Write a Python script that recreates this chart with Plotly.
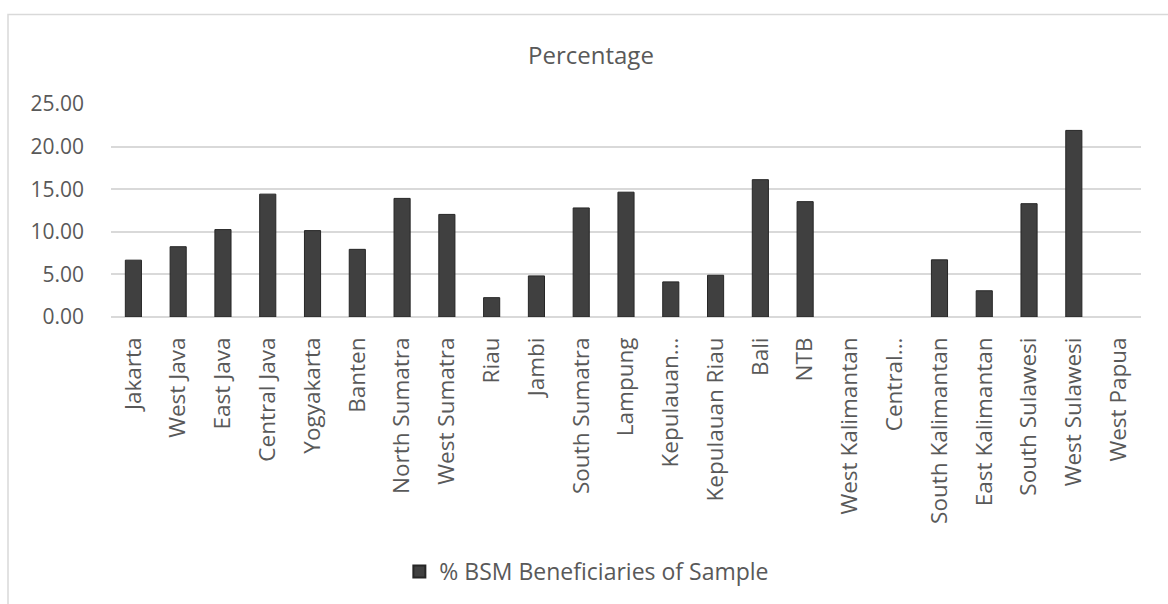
import plotly.graph_objects as go

provinces = [
    "Jakarta", "West Java", "East Java", "Central Java", "Yogyakarta", "Banten",
    "North Sumatra", "West Sumatra", "Riau", "Jambi", "South Sumatra", "Lampung",
    "Kepulauan...", "Kepulauan Riau", "Bali", "NTB", "West Kalimantan", "Central...",
    "South Kalimantan", "East Kalimantan", "South Sulawesi", "West Sulawesi", "West Papua",
]
pct_beneficiaries = [
    6.67, 8.25, 10.26, 14.42, 10.14, 7.94,
    13.92, 12.04, 2.27, 4.82, 12.80, 14.65,
    4.12, 4.90, 16.12, 13.54, 0.0, 0.0,
    6.71, 3.08, 13.30, 21.90, 0.0,
]
y_ticks = [0, 5, 10, 15, 20, 25]

FONT = "'Open Sans', sans-serif"
GREY_TEXT = "#595959"

# no outline on empty bars so nothing sits on the zero line
outline_widths = [1 if v > 0 else 0 for v in pct_beneficiaries]

fig = go.Figure(
    go.Bar(
        x=list(range(len(provinces))),
        y=pct_beneficiaries,
        name="% BSM Beneficiaries of Sample",
        marker=dict(color="#404040", line=dict(color="#262626", width=outline_widths)),
        width=0.36,
    )
)

fig.update_layout(
    width=1168,
    height=604,
    margin=dict(l=111, r=27, t=104, b=283),
    paper_bgcolor="white",
    plot_bgcolor="white",
    font=dict(family=FONT, color=GREY_TEXT),
    title=dict(
        text="Percentage",
        x=0.466, xref="paper", xanchor="center",
        y=1 - 56 / 604, yref="container", yanchor="middle",
        font=dict(size=24, color=GREY_TEXT, family=FONT),
    ),
    showlegend=True,
    legend=dict(
        orientation="h",
        x=0.462, xanchor="center",
        y=-1.195, yanchor="middle",
        font=dict(size=23, color=GREY_TEXT, family=FONT),
        itemsizing="constant",
        itemwidth=30,
    ),
    bargap=0.6,
    shapes=[
        dict(
            type="rect", xref="paper", yref="paper",
            x0=-0.1, x1=1.04, y0=-1.45, y1=1.42,
            line=dict(color="#d9d9d9", width=1.5),
            fillcolor="rgba(0,0,0,0)",
            layer="below",
        )
    ],
)

fig.update_xaxes(
    range=[-0.5, len(provinces) - 0.5],
    tickmode="array",
    tickvals=list(range(len(provinces))),
    ticktext=provinces,
    tickangle=-90,
    tickfont=dict(size=22.5, color=GREY_TEXT, family=FONT),
    showgrid=False,
    showline=False,
    zeroline=False,
    ticks="",
    ticklabelstandoff=15,
    automargin=False,
)

fig.update_yaxes(
    range=[0, 25],
    tickmode="array",
    tickvals=y_ticks,
    ticktext=[f"{v:.2f}" for v in y_ticks],
    tickfont=dict(size=21, color=GREY_TEXT, family=FONT),
    showgrid=True,
    gridcolor="#d9d9d9",
    gridwidth=1.5,
    zeroline=True,
    zerolinecolor="#d9d9d9",
    zerolinewidth=1.5,
    showline=False,
    ticks="",
    ticklabelstandoff=26,
    automargin=False,
)

fig.write_html("out.html")
